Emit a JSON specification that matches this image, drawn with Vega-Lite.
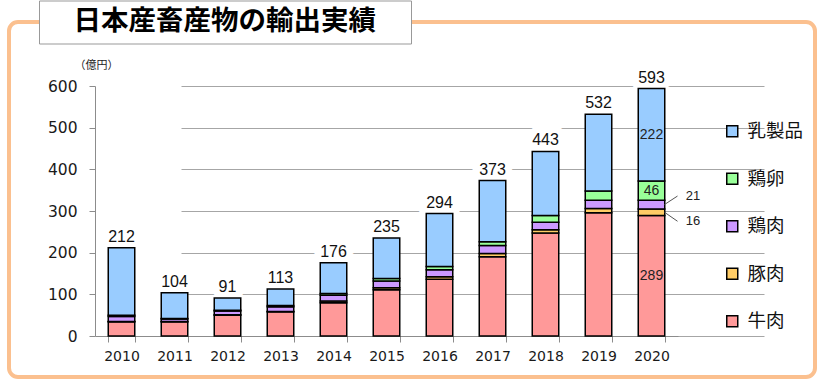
{
  "$schema": "https://vega.github.io/schema/vega-lite/v6.json",
  "autosize": {"type": "none"},
  "width": 806,
  "height": 355,
  "padding": {"left": 9, "right": 9, "top": 22, "bottom": 4},
  "datasets": {
    "items": [
      {"year": "2010", "item": "牛肉", "value": 34}, {"year": "2010", "item": "豚肉", "value": 1}, {"year": "2010", "item": "鶏肉", "value": 12}, {"year": "2010", "item": "鶏卵", "value": 3}, {"year": "2010", "item": "乳製品", "value": 162},
      {"year": "2011", "item": "牛肉", "value": 34}, {"year": "2011", "item": "豚肉", "value": 1}, {"year": "2011", "item": "鶏肉", "value": 6}, {"year": "2011", "item": "鶏卵", "value": 1}, {"year": "2011", "item": "乳製品", "value": 62},
      {"year": "2012", "item": "牛肉", "value": 50}, {"year": "2012", "item": "豚肉", "value": 1}, {"year": "2012", "item": "鶏肉", "value": 9}, {"year": "2012", "item": "鶏卵", "value": 2}, {"year": "2012", "item": "乳製品", "value": 29},
      {"year": "2013", "item": "牛肉", "value": 58}, {"year": "2013", "item": "豚肉", "value": 1}, {"year": "2013", "item": "鶏肉", "value": 11}, {"year": "2013", "item": "鶏卵", "value": 3}, {"year": "2013", "item": "乳製品", "value": 40},
      {"year": "2014", "item": "牛肉", "value": 80}, {"year": "2014", "item": "豚肉", "value": 4}, {"year": "2014", "item": "鶏肉", "value": 14}, {"year": "2014", "item": "鶏卵", "value": 4}, {"year": "2014", "item": "乳製品", "value": 74},
      {"year": "2015", "item": "牛肉", "value": 111}, {"year": "2015", "item": "豚肉", "value": 5}, {"year": "2015", "item": "鶏肉", "value": 16}, {"year": "2015", "item": "鶏卵", "value": 6}, {"year": "2015", "item": "乳製品", "value": 97},
      {"year": "2016", "item": "牛肉", "value": 136}, {"year": "2016", "item": "豚肉", "value": 6}, {"year": "2016", "item": "鶏肉", "value": 17}, {"year": "2016", "item": "鶏卵", "value": 8}, {"year": "2016", "item": "乳製品", "value": 127},
      {"year": "2017", "item": "牛肉", "value": 190}, {"year": "2017", "item": "豚肉", "value": 8}, {"year": "2017", "item": "鶏肉", "value": 19}, {"year": "2017", "item": "鶏卵", "value": 9}, {"year": "2017", "item": "乳製品", "value": 147},
      {"year": "2018", "item": "牛肉", "value": 247}, {"year": "2018", "item": "豚肉", "value": 8}, {"year": "2018", "item": "鶏肉", "value": 18}, {"year": "2018", "item": "鶏卵", "value": 16}, {"year": "2018", "item": "乳製品", "value": 154},
      {"year": "2019", "item": "牛肉", "value": 296}, {"year": "2019", "item": "豚肉", "value": 10}, {"year": "2019", "item": "鶏肉", "value": 20}, {"year": "2019", "item": "鶏卵", "value": 22}, {"year": "2019", "item": "乳製品", "value": 184},
      {"year": "2020", "item": "牛肉", "value": 289}, {"year": "2020", "item": "豚肉", "value": 16}, {"year": "2020", "item": "鶏肉", "value": 21}, {"year": "2020", "item": "鶏卵", "value": 46}, {"year": "2020", "item": "乳製品", "value": 222}
    ],
    "totals": [
      {"year": "2010", "total": 212}, {"year": "2011", "total": 104}, {"year": "2012", "total": 91}, {"year": "2013", "total": 113},
      {"year": "2014", "total": 176}, {"year": "2015", "total": 235}, {"year": "2016", "total": 294}, {"year": "2017", "total": 373},
      {"year": "2018", "total": 443}, {"year": "2019", "total": 532}, {"year": "2020", "total": 593}
    ],
    "heading": [{"t": "日本産畜産物の輸出実績"}]
  },
  "config": {
    "view": {"stroke": "#FBC08F", "strokeWidth": 4, "cornerRadius": 9, "fill": "white"},
    "font": "Liberation Sans",
    "axis": {"labelFont": "DejaVu Sans", "labelColor": "#1a1a1a", "domainColor": "#8c8c8c", "tickColor": "#8c8c8c", "gridColor": "#a6a6a6", "gridWidth": 1},
    "axisX": {"offset": -41, "tickBand": "extent", "tickSize": 6, "labelFontSize": 14, "labelPadding": 7, "labelAngle": 0, "grid": false, "title": null},
    "axisY": {"offset": -86, "tickSize": 6, "labelFontSize": 15.5, "labelPadding": 12, "tickCount": 6, "titleAngle": 0, "titleX": 1, "titleY": 43, "titleAlign": "center", "titleBaseline": "middle", "titleFont": "Noto Sans CJK JP", "titleFontSize": 11, "titleFontWeight": "normal", "titleColor": "#222", "grid": true}
  },
  "layer": [
    {
      "data": {"name": "totals"},
      "mark": {"type": "text", "fontSize": 16, "color": "white", "stroke": "white", "strokeWidth": 14, "baseline": "middle", "dy": -11},
      "encoding": {
        "x": {"field": "year", "type": "ordinal", "scale": {"range": [86, 669], "paddingInner": 0.5, "paddingOuter": 0.25}},
        "y": {"field": "total", "type": "quantitative", "scale": {"domain": [0, 600], "range": [314, 64]}, "axis": {"title": "（億円）"}},
        "text": {"field": "total"}
      }
    },
    {
      "data": {"name": "items"},
      "transform": [
        {"calculate": "indexof(['牛肉','豚肉','鶏肉','鶏卵','乳製品'], datum.item)", "as": "k"},
        {"stack": "value", "groupby": ["year"], "sort": [{"field": "k", "order": "ascending"}], "as": ["v0", "v1"]}
      ],
      "mark": {"type": "bar", "stroke": "#000", "strokeWidth": 1.5},
      "encoding": {
        "x": {"field": "year", "type": "ordinal"},
        "y": {"field": "v1", "type": "quantitative", "axis": {"title": "（億円）"}},
        "y2": {"field": "v0"},
        "color": {
          "field": "item", "type": "nominal",
          "scale": {"domain": ["乳製品", "鶏卵", "鶏肉", "豚肉", "牛肉"], "range": ["#99CCFF", "#99FF99", "#CC99FF", "#FFCC66", "#FF9999"]},
          "legend": {"orient": "none", "legendX": 714, "legendY": 100, "title": null, "symbolType": "square", "symbolSize": 121, "symbolStrokeColor": "#000", "symbolStrokeWidth": 1.5, "labelFontSize": 18.5, "labelFont": "Noto Sans CJK JP", "labelColor": "#111", "rowPadding": 28.5, "labelOffset": 6, "padding": 0}
        }
      }
    },
    {
      "data": {"name": "totals"},
      "mark": {"type": "text", "fontSize": 16, "color": "#111", "baseline": "middle", "dy": -11},
      "encoding": {
        "x": {"field": "year", "type": "ordinal"},
        "y": {"field": "total", "type": "quantitative", "axis": {"title": "（億円）"}},
        "text": {"field": "total"}
      }
    },
    {
      "data": {"name": "items"},
      "transform": [
        {"calculate": "indexof(['牛肉','豚肉','鶏肉','鶏卵','乳製品'], datum.item)", "as": "k"},
        {"stack": "value", "groupby": ["year"], "sort": [{"field": "k", "order": "ascending"}], "as": ["v0", "v1"]},
        {"calculate": "(datum.v0 + datum.v1) / 2", "as": "mid"},
        {"filter": "datum.year == '2020' && (datum.item == '乳製品' || datum.item == '鶏卵' || datum.item == '牛肉')"}
      ],
      "mark": {"type": "text", "fontSize": 14, "color": "#222", "baseline": "middle"},
      "encoding": {
        "x": {"field": "year", "type": "ordinal"},
        "y": {"field": "mid", "type": "quantitative", "axis": {"title": "（億円）"}},
        "text": {"field": "value"}
      }
    },
    {
      "data": {"name": "items"},
      "transform": [
        {"calculate": "indexof(['牛肉','豚肉','鶏肉','鶏卵','乳製品'], datum.item)", "as": "k"},
        {"stack": "value", "groupby": ["year"], "sort": [{"field": "k", "order": "ascending"}], "as": ["v0", "v1"]},
        {"calculate": "(datum.v0 + datum.v1) / 2", "as": "mid"},
        {"filter": "datum.year == '2020' && datum.item == '鶏肉'"}
      ],
      "layer": [
        {
          "mark": {"type": "text", "fontSize": 13, "color": "#222", "align": "left", "baseline": "middle", "dx": 21, "dy": -8.5},
          "encoding": {
            "x": {"field": "year", "type": "ordinal", "bandPosition": 1},
            "y": {"field": "mid", "type": "quantitative", "axis": {"title": "（億円）"}},
            "text": {"field": "value"}
          }
        },
        {
          "mark": {"type": "rule", "color": "#555", "strokeWidth": 1, "xOffset": 13, "x2Offset": 26, "y2Offset": -8.5},
          "encoding": {
            "x": {"field": "year", "type": "ordinal"},
            "x2": {"field": "year"},
            "y": {"field": "mid", "type": "quantitative", "axis": {"title": "（億円）"}},
            "y2": {"field": "mid"}
          }
        }
      ]
    },
    {
      "data": {"name": "items"},
      "transform": [
        {"calculate": "indexof(['牛肉','豚肉','鶏肉','鶏卵','乳製品'], datum.item)", "as": "k"},
        {"stack": "value", "groupby": ["year"], "sort": [{"field": "k", "order": "ascending"}], "as": ["v0", "v1"]},
        {"calculate": "(datum.v0 + datum.v1) / 2", "as": "mid"},
        {"filter": "datum.year == '2020' && datum.item == '豚肉'"}
      ],
      "layer": [
        {
          "mark": {"type": "text", "fontSize": 13, "color": "#222", "align": "left", "baseline": "middle", "dx": 21, "dy": 9},
          "encoding": {
            "x": {"field": "year", "type": "ordinal", "bandPosition": 1},
            "y": {"field": "mid", "type": "quantitative", "axis": {"title": "（億円）"}},
            "text": {"field": "value"}
          }
        },
        {
          "mark": {"type": "rule", "color": "#555", "strokeWidth": 1, "xOffset": 13, "x2Offset": 26, "y2Offset": 9},
          "encoding": {
            "x": {"field": "year", "type": "ordinal"},
            "x2": {"field": "year"},
            "y": {"field": "mid", "type": "quantitative", "axis": {"title": "（億円）"}},
            "y2": {"field": "mid"}
          }
        }
      ]
    },
    {
      "data": {"name": "heading"},
      "mark": {"type": "point", "opacity": 0},
      "encoding": {
        "shape": {
          "field": "t", "type": "nominal",
          "legend": {"orient": "none", "legendX": 30, "legendY": -21.5, "title": "\u200b\u3000日本産畜産物の輸出実績\u3000\u200b", "titleFont": "Noto Sans CJK JP", "titleFontSize": 27.5, "titleFontWeight": "bold", "titleColor": "#000", "titleLimit": 600, "titlePadding": 0, "padding": 7, "fillColor": "white", "strokeColor": "#999999", "symbolSize": 0, "symbolOpacity": 0, "labelExpr": "''", "labelFontSize": 1, "labelOffset": 0}
        }
      }
    }
  ]
}
